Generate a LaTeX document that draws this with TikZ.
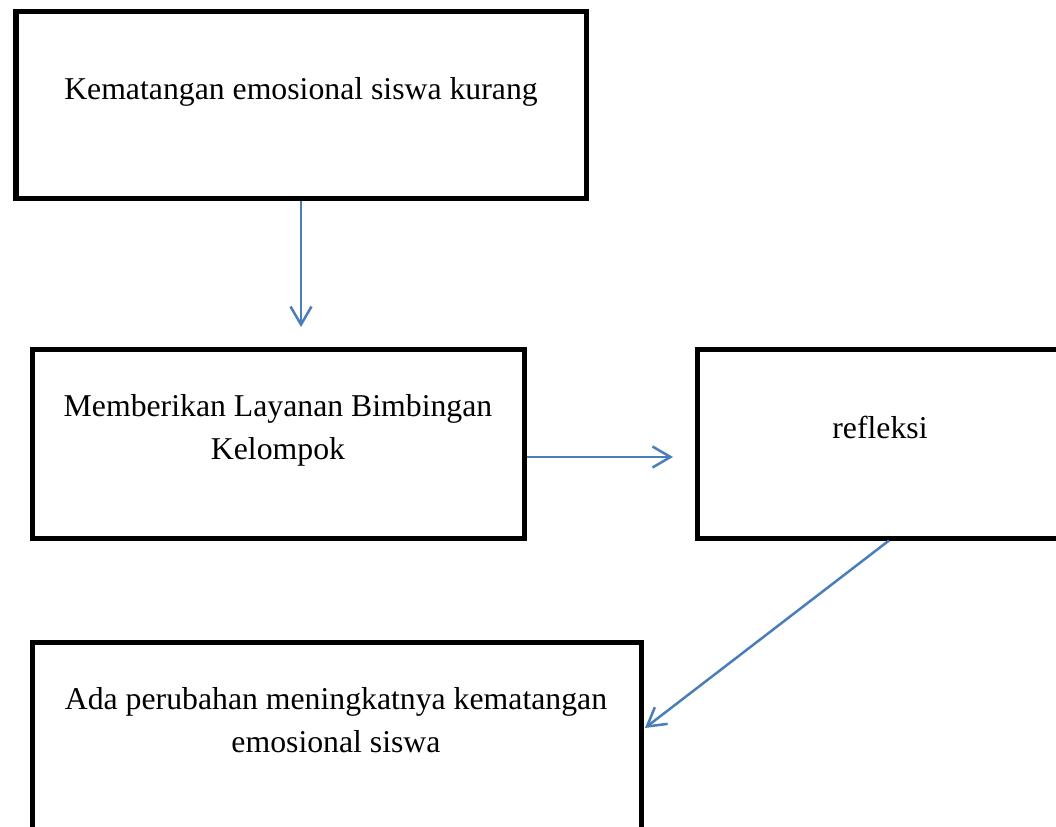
\documentclass[tikz,border=0pt]{standalone}
\usepackage{fontspec}
\setmainfont{Liberation Serif}
\usetikzlibrary{arrows.meta}
\definecolor{flowblue}{HTML}{4A7EBB}

\begin{document}
\begin{tikzpicture}
      [x=0.4pt, y=-0.4pt,
       stage/.style={
           rectangle,
           draw=black, line width=2pt,
           inner sep=0pt
         },
       caption/.style={
           font=\fontsize{12.7}{17.2}\selectfont,
           align=center,
           inner sep=0pt,
           anchor=base
         },
       flow/.style={
           draw=flowblue, line width=1pt,
           -{Straight Barb[length=7.2pt, width=8.4pt]}
         },
       ]
    \useasboundingbox (0,0) rectangle (1056,827);
    \clip (0,0) rectangle (1056,827);

    % base of a two-line caption is its last line
    \node [stage, minimum width=570*0.4pt, minimum height=187*0.4pt] (kurang) at (301,104.5) {};
    \node [caption] (kurangtxt) at (301,99) {Kematangan emosional siswa kurang};

    \node [stage, minimum width=492*0.4pt, minimum height=189*0.4pt] (layanan) at (278,443.5) {};
    \node [caption] (layanantxt) at (278,459) {Memberikan Layanan Bimbingan\\ Kelompok};

    \node [stage, minimum width=384*0.4pt, minimum height=189*0.4pt] (refleksi) at (889,443.5) {};
    \node [caption] (refleksitxt) at (880,438) {refleksi};

    \node [stage, minimum width=609*0.4pt, minimum height=218*0.4pt] (hasil) at (336.5,751) {};
    \node [caption] (hasiltxt) at (336,752) {Ada perubahan meningkatnya kematangan\\ emosional siswa};

    \coordinate (tip1) at (301,327);
    \coordinate (tip2) at (673,457);
    \coordinate (tip3) at (645,728);

    \draw [flow] (kurang.south) -- (tip1);
    \draw [flow] (layanan.east |- tip2) -- (tip2);
    \draw [flow] (refleksi.south) -- (tip3);

  \end{tikzpicture}
\end{document}
